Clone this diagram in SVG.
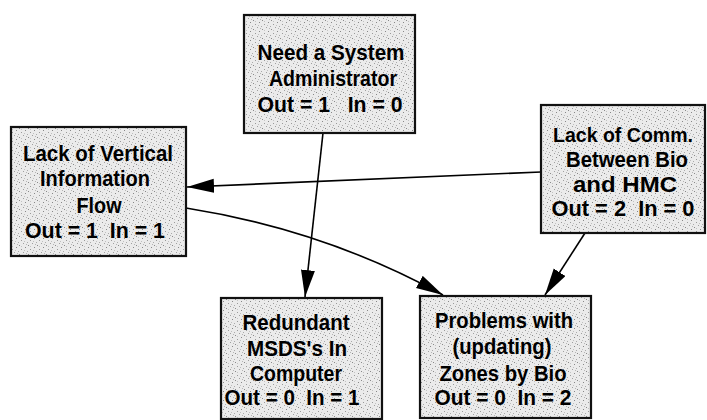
<svg xmlns="http://www.w3.org/2000/svg" width="707" height="420" viewBox="0 0 707 420">
<defs>
<pattern id="stip" width="9" height="9" patternUnits="userSpaceOnUse">
<rect width="9" height="9" fill="#ebebeb"/>
<rect x="1" y="2" width="1" height="1" fill="#8a8a8a"/>
<rect x="5" y="0" width="1" height="1" fill="#a0a0a0"/>
<rect x="7" y="4" width="1" height="1" fill="#888"/>
<rect x="3" y="6" width="1" height="1" fill="#9a9a9a"/>
<rect x="0" y="8" width="1" height="1" fill="#aaa"/>
<rect x="6" y="7" width="1" height="1" fill="#c0c0c0"/>
<rect x="3" y="3" width="1" height="1" fill="#c4c4c4"/>
<rect x="8" y="1" width="1" height="1" fill="#b5b5b5"/>
</pattern>
<marker id="arr" markerUnits="userSpaceOnUse" markerWidth="28" markerHeight="16" refX="27" refY="7" orient="auto">
<path d="M0,0 L27,7 L0,14 z" fill="#000"/>
</marker>
</defs>
<style>
.box{fill:url(#stip);stroke:#111;stroke-width:2.2}
.t{font-family:"Liberation Sans",Arial,sans-serif;font-weight:bold;font-size:22px;fill:#000;text-anchor:middle;white-space:pre}
.c{fill:none;stroke:#000;stroke-width:1.6;marker-end:url(#arr)}
</style>
<g id="connectors">
<path class="c" d="M323,133 L305,297"/>
<path class="c" d="M541,172 L187,187"/>
<path class="c" d="M186,208 Q325,230 443,295"/>
<path class="c" d="M585,233 L545,295"/>
</g>
<g id="n_sysadmin">
<rect class="box" x="244" y="15" width="171" height="118"/>
<text class="t" x="331" y="60" textLength="147" lengthAdjust="spacingAndGlyphs">Need a System</text>
<text class="t" x="333" y="86" textLength="128" lengthAdjust="spacingAndGlyphs">Administrator</text>
<text class="t" x="330" y="112" textLength="145" lengthAdjust="spacingAndGlyphs">Out = 1   In = 0</text>
</g>
<g id="n_vertical">
<rect class="box" x="11" y="127" width="175" height="129"/>
<text class="t" x="98" y="161" textLength="150" lengthAdjust="spacingAndGlyphs">Lack of Vertical</text>
<text class="t" x="95" y="186" textLength="110" lengthAdjust="spacingAndGlyphs">Information</text>
<text class="t" x="99" y="213" textLength="45" lengthAdjust="spacingAndGlyphs">Flow</text>
<text class="t" x="95" y="238" textLength="140" lengthAdjust="spacingAndGlyphs">Out = 1  In = 1</text>
</g>
<g id="n_comm">
<rect class="box" x="541" y="105" width="164" height="128"/>
<text class="t" x="623" y="142" style="font-size:21px" textLength="140" lengthAdjust="spacingAndGlyphs">Lack of Comm.</text>
<text class="t" x="627" y="167" textLength="122" lengthAdjust="spacingAndGlyphs">Between Bio</text>
<text class="t" x="625" y="192" textLength="104" lengthAdjust="spacingAndGlyphs">and HMC</text>
<text class="t" x="623" y="216" textLength="143" lengthAdjust="spacingAndGlyphs">Out = 2  In = 0</text>
</g>
<g id="n_msds">
<rect class="box" x="221" y="298" width="161" height="121"/>
<text class="t" x="296" y="330" textLength="107" lengthAdjust="spacingAndGlyphs">Redundant</text>
<text class="t" x="297" y="356" textLength="100" lengthAdjust="spacingAndGlyphs">MSDS's In</text>
<text class="t" x="296" y="381" textLength="92" lengthAdjust="spacingAndGlyphs">Computer</text>
<text class="t" x="292" y="405" textLength="135" lengthAdjust="spacingAndGlyphs">Out = 0  In = 1</text>
</g>
<g id="n_zones">
<rect class="box" x="420" y="296" width="171" height="122"/>
<text class="t" x="504" y="328" textLength="138" lengthAdjust="spacingAndGlyphs">Problems with</text>
<text class="t" x="502" y="354" textLength="99" lengthAdjust="spacingAndGlyphs">(updating)</text>
<text class="t" x="503" y="381" textLength="127" lengthAdjust="spacingAndGlyphs">Zones by Bio</text>
<text class="t" x="503" y="405" textLength="137" lengthAdjust="spacingAndGlyphs">Out = 0  In = 2</text>
</g>
</svg>
